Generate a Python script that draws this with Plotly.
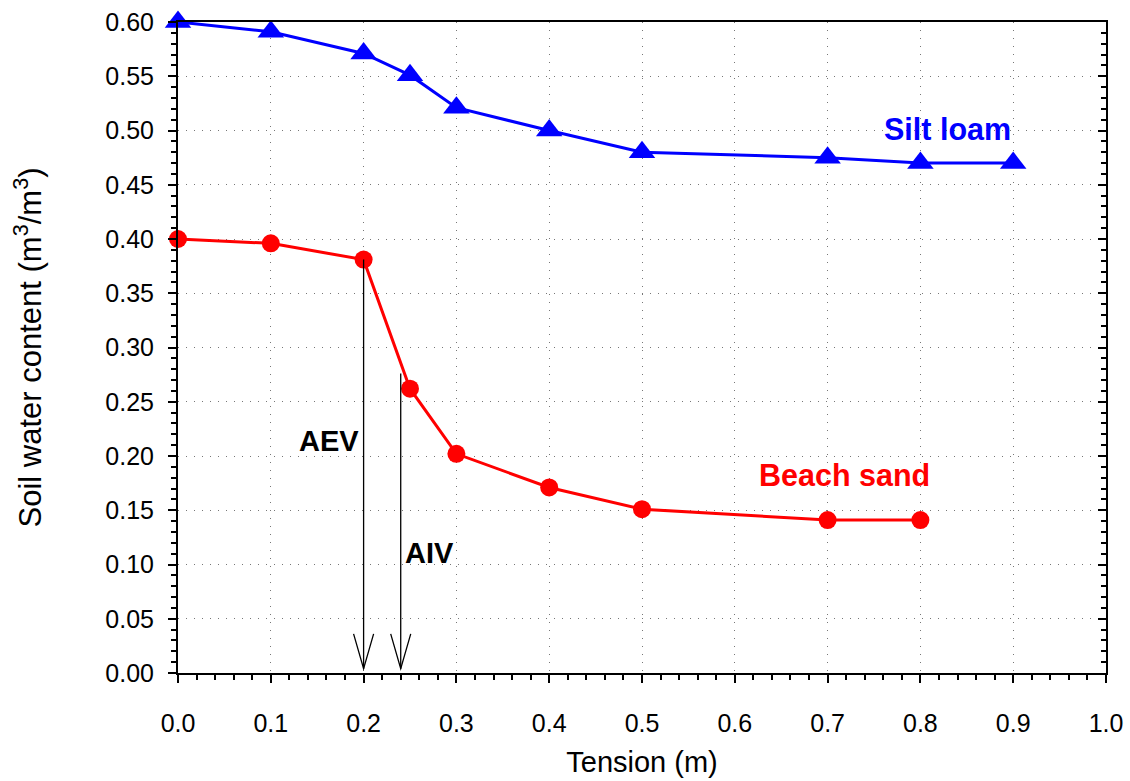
import plotly.graph_objects as go

# Data
tension_silt = [0.0, 0.1, 0.2, 0.25, 0.3, 0.4, 0.5, 0.7, 0.8, 0.9]
theta_silt = [0.60, 0.591, 0.571, 0.551, 0.521, 0.50, 0.48, 0.475, 0.47, 0.47]
tension_sand = [0.0, 0.1, 0.2, 0.25, 0.3, 0.4, 0.5, 0.7, 0.8]
theta_sand = [0.40, 0.396, 0.381, 0.262, 0.202, 0.171, 0.151, 0.141, 0.141]

aev_x, aev_top = 0.2, 0.381
aiv_x, aiv_top = 0.24, 0.276

FONT = "Liberation Sans, Arial, sans-serif"

fig = go.Figure()
fig.add_trace(go.Scatter(x=tension_silt, y=theta_silt, mode="lines+markers",
                         line=dict(color="#0000FF", width=3),
                         marker=dict(symbol="triangle-up", size=23, color="#0000FF"),
                         showlegend=False, cliponaxis=False))
fig.add_trace(go.Scatter(x=tension_sand, y=theta_sand, mode="lines+markers",
                         line=dict(color="#FF0000", width=3),
                         marker=dict(symbol="circle", size=18, color="#FF0000"),
                         showlegend=False, cliponaxis=False))

# AEV / AIV arrows (vertical line + open V head)
head_dx, head_dy, tip_y = 0.0108, 0.032, 0.004
for xv, top in [(aev_x, aev_top), (aiv_x, aiv_top)]:
    fig.add_shape(type="line", x0=xv, x1=xv, y0=top, y1=tip_y,
                  line=dict(color="black", width=1.3))
    fig.add_shape(type="path",
                  path=f"M {xv-head_dx},{tip_y+head_dy} L {xv},{tip_y} L {xv+head_dx},{tip_y+head_dy}",
                  line=dict(color="black", width=1.3))

ann_size = 30.5
fig.add_annotation(x=0.197, y=0.214, text="<b>AEV</b>", showarrow=False,
                   xanchor="right", yanchor="middle", font=dict(family=FONT, size=29, color="black"))
fig.add_annotation(x=0.2425, y=0.1105, text="<b>AIV</b>", showarrow=False,
                   xanchor="left", yanchor="middle", font=dict(family=FONT, size=29, color="black"))
fig.add_annotation(x=0.829, y=0.501, text="<b>Silt loam</b>", showarrow=False,
                   xanchor="center", yanchor="middle", font=dict(family=FONT, size=ann_size, color="#0000FF"))
fig.add_annotation(x=0.718, y=0.1825, text="<b>Beach sand</b>", showarrow=False,
                   xanchor="center", yanchor="middle", font=dict(family=FONT, size=ann_size, color="#FF0000"))

tick_font = dict(family=FONT, size=25, color="black")
grid = dict(showgrid=True, gridcolor="#777777", griddash="1px,7px", gridwidth=1)

fig.update_layout(
    width=1130, height=781,
    margin=dict(l=178, r=24, t=22, b=108),
    plot_bgcolor="white", paper_bgcolor="white",
    font=dict(family=FONT, color="black"),
    xaxis=dict(range=[0, 1.0], dtick=0.1, tickformat=".1f",
               ticks="outside", ticklen=8, tickwidth=2, tickcolor="black",
               minor=dict(dtick=0.02, ticks="outside", ticklen=5, tickwidth=1.5, tickcolor="black", showgrid=False),
               showline=True, linecolor="black", linewidth=2, mirror=True,
               tickfont=tick_font, ticklabelstandoff=19, zeroline=False, automargin=False,
               title=dict(text="Tension (m)", font=dict(family=FONT, size=29), standoff=16),
               **grid),
    yaxis=dict(range=[0, 0.6], dtick=0.05, tickformat=".2f",
               ticks="outside", ticklen=8, tickwidth=2, tickcolor="black",
               minor=dict(dtick=0.01, ticks="outside", ticklen=5, tickwidth=1.5, tickcolor="black", showgrid=False),
               showline=True, linecolor="black", linewidth=2, mirror=True,
               tickfont=tick_font, ticklabelstandoff=9, zeroline=False, automargin=False,
               title=dict(text="Soil water content (m<sup>3</sup>/m<sup>3</sup>)",
                          font=dict(family=FONT, size=31), standoff=54),
               **grid),
    yaxis2=dict(range=[0, 0.6], dtick=0.05, overlaying="y", side="right",
                ticks="inside", ticklen=8, tickwidth=2, tickcolor="black",
                minor=dict(dtick=0.01, ticks="inside", ticklen=5, tickwidth=1.5, tickcolor="black"),
                showticklabels=False, showgrid=False, zeroline=False, showline=False,
                automargin=False),
)
# invisible trace to activate yaxis2
fig.add_trace(go.Scatter(x=[None], y=[None], yaxis="y2", showlegend=False, hoverinfo="skip"))

fig.write_html("out.html", config={"displayModeBar": False},
               post_script="document.body.style.margin='0';document.body.style.padding='0';")
